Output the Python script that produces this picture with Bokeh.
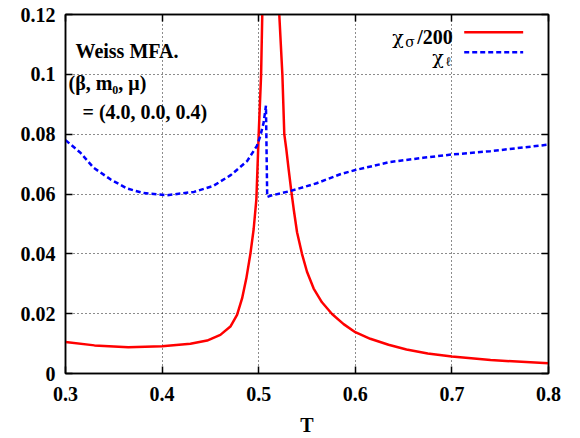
from bokeh.plotting import figure
from bokeh.models import Range1d, FixedTicker, LinearAxis, Label
from bokeh.embed import file_html
from bokeh.resources import INLINE

# ---------------- data ----------------
T_sigma = [0.300, 0.330, 0.365, 0.400, 0.4293, 0.4466, 0.4603, 0.4707, 0.4776,
           0.4828, 0.4872, 0.4914, 0.4948, 0.4976, 0.5000, 0.5025, 0.5037,
           0.506, 0.512, 0.518, 0.5213, 0.5245, 0.5265, 0.5286, 0.5310, 0.5335,
           0.5362, 0.5397, 0.5448, 0.5500, 0.5569, 0.5655, 0.5759, 0.5879,
           0.6000, 0.6155, 0.6344, 0.6530, 0.6750, 0.7000, 0.7400, 0.8000]
chi_sigma_200 = [0.0105, 0.0094, 0.0088, 0.0091, 0.00995, 0.0110, 0.0129, 0.0157,
                 0.0196, 0.0251, 0.0318, 0.0400, 0.0483, 0.0583, 0.0800, 0.1000,
                 0.1200, 0.1800, 0.5000, 0.1800, 0.1200, 0.1000, 0.0800, 0.0749,
                 0.0682, 0.0616, 0.0550, 0.0472, 0.0400, 0.0340, 0.0284, 0.0238,
                 0.0199, 0.0165, 0.0138, 0.0116, 0.0096, 0.0080, 0.0067, 0.0057,
                 0.0045, 0.0034]

T_ell = [0.300, 0.3155, 0.329, 0.3465, 0.364, 0.381, 0.405, 0.433, 0.453,
         0.471, 0.488, 0.498, 0.5016, 0.505, 0.5075, 0.5088, 0.5120, 0.5328,
         0.5600, 0.5844, 0.600, 0.636, 0.670, 0.700, 0.7395, 0.800]
chi_ell = [0.0780, 0.0738, 0.0688, 0.0649, 0.0618, 0.0603, 0.0596, 0.0607,
           0.0627, 0.0663, 0.0710, 0.0760, 0.0793, 0.0837, 0.0895, 0.0590,
           0.0594, 0.0610, 0.0636, 0.0666, 0.0680, 0.0707, 0.0721, 0.0732,
           0.0743, 0.0765]

x_ticks = [0.3, 0.4, 0.5, 0.6, 0.7, 0.8]
x_tick_labels = ["0.3", "0.4", "0.5", "0.6", "0.7", "0.8"]
y_ticks = [0.0, 0.02, 0.04, 0.06, 0.08, 0.10, 0.12]
y_tick_labels = ["0", "0.02", "0.04", "0.06", "0.08", "0.1", "0.12"]

x_label = "T"
legend_sigma = ("χ", "σ", "/200")
legend_ell = ("χ", "ℓ")
note_lines = ["Weiss MFA.", "(β, m₀, μ)", "= (4.0, 0.0, 0.4)"]

FONT = "'Liberation Serif', 'Times New Roman', serif"
GREEK = "'DejaVu Serif', serif"

p = figure(width=572, height=438,
           x_range=Range1d(0.3, 0.8), y_range=Range1d(0.0, 0.12),
           output_backend="svg", toolbar_location=None,
           min_border_left=65, min_border_right=24,
           min_border_top=14, min_border_bottom=62)

p.outline_line_color = "black"
p.outline_line_width = 1.5
p.background_fill_color = "white"
p.border_fill_color = "white"

# grid
p.xgrid.ticker = FixedTicker(ticks=x_ticks)
p.ygrid.ticker = FixedTicker(ticks=y_ticks)
p.grid.grid_line_color = "black"
p.grid.grid_line_dash = "1 3"
p.grid.grid_line_width = 1
p.grid.grid_line_alpha = 0.9

def style_axis(ax, ticks, labels, show_labels=True):
    ax.ticker = FixedTicker(ticks=ticks)
    ax.axis_line_color = "black"
    ax.axis_line_width = 1.5
    ax.major_tick_line_color = "black"
    ax.major_tick_line_width = 1.5
    ax.major_tick_in = 7
    ax.major_tick_out = 0
    ax.minor_tick_line_color = None
    ax.major_label_text_font = FONT
    ax.major_label_text_font_style = "bold"
    ax.major_label_text_color = "black"
    if show_labels:
        ax.major_label_overrides = {t: l for t, l in zip(ticks, labels)}
        ax.major_label_text_font_size = "20px"
    else:
        ax.major_label_overrides = {t: "" for t in ticks}
        ax.major_label_text_font_size = "1px"
        ax.major_label_standoff = 0

xa = p.xaxis[0]
ya = p.yaxis[0]
style_axis(xa, x_ticks, x_tick_labels)
style_axis(ya, y_ticks, y_tick_labels)
xa.major_label_standoff = 13
ya.major_label_standoff = 10
xa.axis_label = x_label
xa.axis_label_text_font = FONT
xa.axis_label_text_font_style = "bold"
xa.axis_label_text_font_size = "20px"
xa.axis_label_standoff = 10
xa.axis_label_text_color = "black"

top = LinearAxis()
style_axis(top, x_ticks, x_tick_labels, show_labels=False)
p.add_layout(top, "above")
right = LinearAxis()
style_axis(right, y_ticks, y_tick_labels, show_labels=False)
p.add_layout(right, "right")

# curves
p.line(T_sigma, chi_sigma_200, line_color="#ff0000", line_width=2.5)
p.line(T_ell, chi_ell, line_color="#0000ff", line_width=2.5, line_dash="5 3")

# helpers: page pixel -> data coordinates (for annotation placement only)
def tx(px):
    return 0.3 + (px - 65.0) / 966.7

def vy(py):
    return (375.7 - py) / 3014.0

def lab(px, py, text, size="20px", style="bold", align="left", font=FONT):
    p.add_layout(Label(x=tx(px), y=vy(py), text=text, text_font=font,
                       text_font_size=size, text_font_style=style,
                       text_color="black", text_align=align,
                       text_baseline="alphabetic"))

# annotation
lab(75, 51, note_lines[0])
lab(68, 83, note_lines[1])
lab(82, 112, note_lines[2])

# legend (drawn by hand, label left of sample like the reference)
lab(392, 37, legend_sigma[0], size="19px", style="normal", font=GREEK)
lab(405, 42, legend_sigma[1], size="14px", style="normal", font=GREEK)
lab(417, 37, legend_sigma[2])
p.segment(x0=[tx(464)], y0=[vy(32)], x1=[tx(523)], y1=[vy(32)],
          line_color="#ff0000", line_width=2.5)
lab(432, 57, legend_ell[0], size="19px", style="normal", font=GREEK)
lab(445, 61, legend_ell[1], size="13px", style="normal", font=GREEK)
p.segment(x0=[tx(464)], y0=[vy(52)], x1=[tx(523)], y1=[vy(52)],
          line_color="#0000ff", line_width=2.5, line_dash="5 3")

open("out.html", "w").write(file_html(p, INLINE))
